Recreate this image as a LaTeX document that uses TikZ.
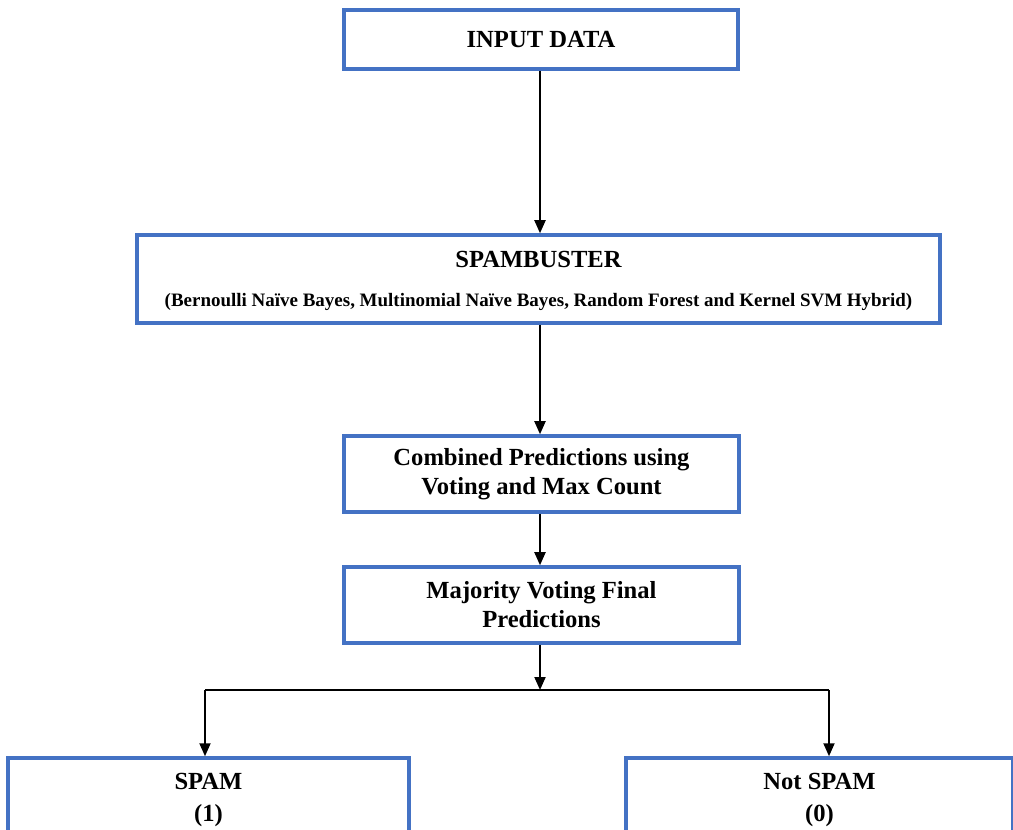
\documentclass[tikz,border=0pt]{standalone}
\usepackage{fontspec}
\setmainfont{Liberation Serif}
\usetikzlibrary{arrows.meta,positioning}
\definecolor{boxblue}{RGB}{68,114,196}

\begin{document}
\begin{tikzpicture}[x=0.02cm, y=-0.02cm,
    stage/.style={draw=boxblue, line width=2pt, fill=white, inner sep=0pt,
      align=center, font=\fontsize{14}{16.5}\selectfont\bfseries},
    flow/.style={line width=1.1pt, -{Triangle[length=0.26cm, width=0.22cm]}}]
    % page size of the reference (pixels)
    \useasboundingbox (0,0) rectangle (1013,830);
    \clip (0,0) rectangle (1013,830);

    % Boxes
    \node[stage, minimum width=394*0.02cm, minimum height=59*0.02cm] (input) at (541,39.5) {INPUT DATA};
    \node[stage, minimum width=803*0.02cm, minimum height=88*0.02cm] (buster) at (538.5,279) {};
    \node[font=\fontsize{14}{16.5}\selectfont\bfseries] (bustertitle) at (538.5,259) {SPAMBUSTER};
    \node[font=\fontsize{10.8}{12}\selectfont\bfseries] (bustersub) at (538.5,302)
      {(Bernoulli Naïve Bayes, Multinomial Naïve Bayes, Random Forest and Kernel SVM Hybrid)};
    \node[stage, minimum width=395*0.02cm, minimum height=76*0.02cm] (comb) at (541.5,474) {Combined Predictions using\\Voting and Max Count};
    \node[stage, minimum width=395*0.02cm, minimum height=76*0.02cm] (major) at (541.5,605) {Majority Voting Final\\Predictions};
    \node[stage, minimum width=401*0.02cm, minimum height=84*0.02cm] (spam) at (208.5,800) {SPAM\\[2pt](1)};
    \node[stage, minimum width=387*0.02cm, minimum height=84*0.02cm] (notspam) at (819.5,800) {Not SPAM\\[2pt](0)};

    % Split points
    \coordinate (split) at (540,690);
    \coordinate (lsplit) at (205,690);
    \coordinate (rsplit) at (829,690);

    % Arrows
    \draw[flow] (input.south -| split) -- (buster.north -| split);
    \draw[flow] (buster.south -| split) -- (comb.north -| split);
    \draw[flow] (comb.south -| split) -- (major.north -| split);
    \draw[flow] (major.south -| split) -- (split);
    \draw[line width=1.1pt] (lsplit) -- (rsplit);
    \draw[flow] (lsplit) -- (lsplit |- spam.north);
    \draw[flow] (rsplit) -- (rsplit |- notspam.north);
\end{tikzpicture}
\end{document}
